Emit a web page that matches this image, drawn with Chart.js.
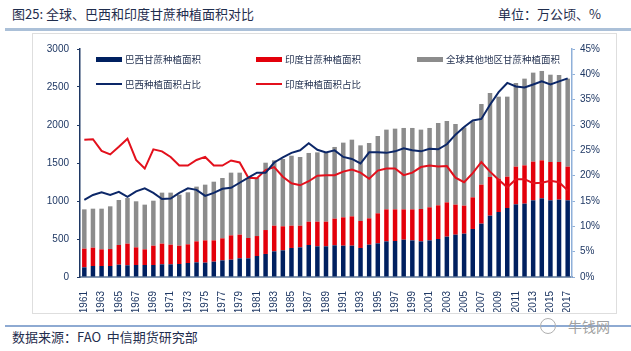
<!DOCTYPE html>
<html>
<head>
<meta charset="utf-8">
<script src="https://cdn.jsdelivr.net/npm/chart.js@4"></script>
<style>
body { margin: 0; background: #fff; font-family: "Noto Sans CJK SC", "Noto Sans", sans-serif; }
#wrap { position: relative; width: 631px; height: 351px; overflow: hidden; }
.txt { position: absolute; font-size: 13px; line-height: 18px; color: #1f2d4d; white-space: nowrap; }
.topline { position: absolute; left: 5px; right: 0; top: 28px; height: 3px; background: #abc0d8; }
.box { position: absolute; left: 32px; top: 33px; width: 583px; height: 279px; border: 1px solid #dedede; }
.botline { position: absolute; left: 5px; right: 0; top: 325px; height: 2px; background: #8eaad2; }
#chartBox { position: absolute; left: 32px; top: 32px; width: 584px; height: 280px; }
.lg { position: absolute; font-size: 9.5px; line-height: 12px; color: #1f2d4d; white-space: nowrap; }
.sw { position: absolute; width: 26px; }
.wm { position: absolute; left: 568px; top: 316px; font-size: 14px; color: #a0a0a0; }
.wmc { position: absolute; left: 540px; top: 318px; width: 14px; height: 14px; border: 1px solid #b0b0b0; border-radius: 50%; }
</style>
</head>
<body>
<div id="wrap">
  <div class="txt" style="left:12px;top:5px;">图25: 全球、巴西和印度甘蔗种植面积对比</div>
  <div class="txt" style="left:498px;top:5px;">单位：万公顷、%</div>
  <div class="topline"></div>
  <div class="box"></div>
  <div id="chartBox"><canvas id="chart" width="584" height="280"></canvas></div>
  <div id="legend"></div>
  <div class="botline"></div>
  <div class="wmc"></div>
  <div class="wm">牛钱网</div>
  <div class="txt" style="left:12px;top:328px;">数据来源：FAO&nbsp;&nbsp;中信期货研究部</div>
</div>
<script>
// years 1961-2017
const years = [];
for (let y = 1961; y <= 2017; y++) years.push(String(y));

// 万公顷
const brazilArea = [127,145,145,145,162,154,158,158,158,167,167,171,184,193,189,202,219,228,246,
  246,276,303,338,351,382,390,421,404,404,417,412,412,382,425,443,469,474,491,
  482,469,482,500,531,557,570,632,702,807,855,908,956,965,1009,1035,1009,1018,1009];
const indiaArea = [246,241,219,223,259,285,232,206,254,272,258,241,246,276,293,280,290,320,311,
  267,263,315,337,316,293,285,307,324,324,351,373,386,355,347,395,421,416,399,
  408,426,435,443,451,395,369,416,513,509,439,412,496,504,509,500,504,495,443];
const otherArea = [517,513,535,562,592,600,606,588,592,671,685,671,684,720,733,772,794,825,816,
  790,764,886,860,886,921,904,904,912,912,943,983,1009,995,991,1017,1049,1062,1071,
  1071,1044,1044,1083,1071,1061,1030,1000,1061,1105,1079,1053,1101,1141,1171,1176,1149,1145,1158];

// %
const brazilShare = [15.2,16.2,16.7,16.2,16.8,15.8,16.9,17.5,16.6,15.4,15.5,16.6,17.5,17.2,16.0,16.6,17.4,17.6,18.6,
  19.6,20.6,20.6,22.6,23.6,24.5,25.0,26.4,25.1,24.6,25.0,23.7,23.3,22.4,24.6,24.6,24.5,24.8,25.4,
  25.0,24.8,25.3,25.2,26.2,28.1,29.6,30.9,31.2,34.0,36.5,38.3,37.6,37.4,38.0,38.6,38.0,38.6,39.2];
const indiaShare = [27.1,27.2,24.9,24.2,25.7,27.3,23.1,21.4,25.2,24.8,23.7,22.0,22.0,23.1,23.7,22.0,22.0,23.0,22.6,
  19.6,19.5,21.1,21.7,19.8,18.5,18.1,18.9,20.0,20.1,20.1,20.8,21.2,20.6,19.4,21.0,21.4,21.4,20.1,
  20.6,21.7,22.0,21.8,21.9,19.6,18.7,20.5,22.7,20.8,19.2,17.7,19.3,19.3,18.5,18.6,19.0,18.7,17.1];

const NAVY = '#002060', RED = '#e3000b', GRAY = '#8c8c8c';
const LNAVY = '#0c2768', LRED = '#e3101c';
const TXT = '#1f3864';

new Chart(document.getElementById('chart'), {
  type: 'bar',
  data: {
    labels: years,
    datasets: [
      { type: 'line', label: '巴西种植面积占比', data: brazilShare, yAxisID: 'y1', borderColor: LNAVY, borderWidth: 2, pointRadius: 0, tension: 0, fill: false },
      { type: 'line', label: '印度种植面积占比', data: indiaShare, yAxisID: 'y1', borderColor: LRED, borderWidth: 2, pointRadius: 0, tension: 0, fill: false },
      { label: '巴西甘蔗种植面积', data: brazilArea, backgroundColor: NAVY, yAxisID: 'y', stack: 's' },
      { label: '印度甘蔗种植面积', data: indiaArea, backgroundColor: RED, yAxisID: 'y', stack: 's' },
      { label: '全球其他地区甘蔗种植面积', data: otherArea, backgroundColor: GRAY, yAxisID: 'y', stack: 's' }
    ]
  },
  options: {
    responsive: false,
    animation: false,
    layout: { padding: { top: 17, left: 0, right: 0, bottom: 0 } },
    datasets: { bar: { categoryPercentage: 1, barPercentage: 0.52 } },
    plugins: { legend: { display: false }, tooltip: { enabled: false } },
    scales: {
      x: {
        stacked: true,
        offset: true,
        grid: { display: false },
        border: { display: true, color: '#8497b0', width: 2 },
        ticks: {
          autoSkip: false, maxRotation: 90, minRotation: 90, padding: 6, color: TXT,
          font: { size: 10, family: 'Liberation Sans, Arial, sans-serif' },
          callback: (v, i) => (i % 2 === 0 ? years[i] : '')
        },
        afterFit: s => { s.height = 35; }
      },
      y: {
        stacked: true, min: 0, max: 3000, position: 'left',
        grid: { drawOnChartArea: false, drawTicks: true, tickLength: 3, color: '#1f3864', lineWidth: 1 },
        border: { color: '#1f3864', width: 1.5 },
        ticks: { stepSize: 500, padding: 8, color: TXT, font: { size: 10, family: 'Liberation Sans, Arial, sans-serif' }, callback: v => String(v) },
        afterFit: s => { s.width = 48; }
      },
      y1: {
        stacked: false, min: 0, max: 45, position: 'right',
        grid: { drawOnChartArea: false, drawTicks: true, tickLength: 3, color: '#8fb0d9', lineWidth: 1 },
        border: { color: '#8fb0d9', width: 1.5 },
        ticks: { stepSize: 5, padding: 5, color: TXT, font: { size: 10, family: 'Liberation Sans, Arial, sans-serif' }, callback: v => v + '%' },
        afterFit: s => { s.width = 44; }
      }
    }
  }
});

// legend laid out like the original: 3 columns, 2 rows
const legendItems = [
  { text: '巴西甘蔗种植面积', color: NAVY, bar: true, x: 96, y: 59 },
  { text: '印度甘蔗种植面积', color: RED, bar: true, x: 256, y: 59 },
  { text: '全球其他地区甘蔗种植面积', color: GRAY, bar: true, x: 417, y: 59 },
  { text: '巴西种植面积占比', color: LNAVY, bar: false, x: 96, y: 84 },
  { text: '印度种植面积占比', color: LRED, bar: false, x: 256, y: 84 }
];
const lg = document.getElementById('legend');
legendItems.forEach(it => {
  const h = it.bar ? 5 : 2;
  const sw = document.createElement('div');
  sw.className = 'sw';
  sw.style.left = it.x + 'px';
  sw.style.top = (it.y - h / 2) + 'px';
  sw.style.height = h + 'px';
  sw.style.background = it.color;
  lg.appendChild(sw);
  const t = document.createElement('div');
  t.className = 'lg';
  t.style.left = (it.x + 29) + 'px';
  t.style.top = (it.y - 6.5) + 'px';
  t.textContent = it.text;
  lg.appendChild(t);
});
</script>
</body>
</html>
